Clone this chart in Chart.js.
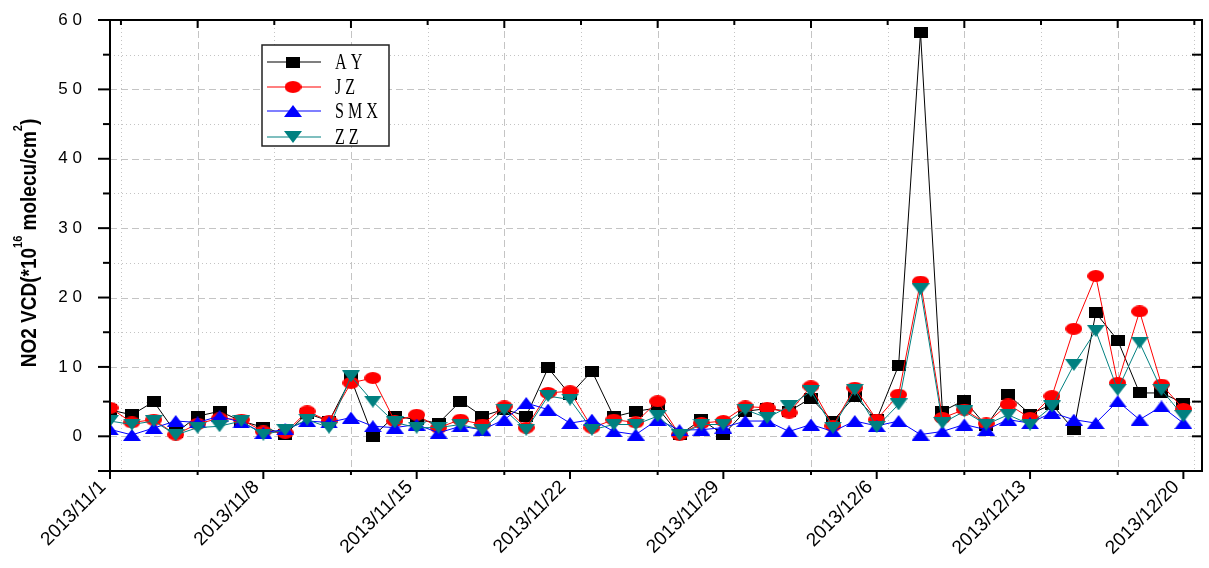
<!DOCTYPE html>
<html>
<head>
<meta charset="utf-8">
<script src="https://cdn.jsdelivr.net/npm/chart.js@4.4.1/dist/chart.umd.min.js"></script>
<style>
  html, body { margin: 0; padding: 0; background: #fff; }
  #wrap { width: 1209px; height: 568px; position: relative; }
</style>
</head>
<body>
<div id="wrap"><canvas id="c" width="1209" height="568"></canvas></div>
<script>
// One entry per day, 2013/11/1 .. 2013/12/20
const dates = [
  '2013/11/1','2013/11/2','2013/11/3','2013/11/4','2013/11/5','2013/11/6','2013/11/7','2013/11/8','2013/11/9','2013/11/10',
  '2013/11/11','2013/11/12','2013/11/13','2013/11/14','2013/11/15','2013/11/16','2013/11/17','2013/11/18','2013/11/19','2013/11/20',
  '2013/11/21','2013/11/22','2013/11/23','2013/11/24','2013/11/25','2013/11/26','2013/11/27','2013/11/28','2013/11/29','2013/11/30',
  '2013/12/1','2013/12/2','2013/12/3','2013/12/4','2013/12/5','2013/12/6','2013/12/7','2013/12/8','2013/12/9','2013/12/10',
  '2013/12/11','2013/12/12','2013/12/13','2013/12/14','2013/12/15','2013/12/16','2013/12/17','2013/12/18','2013/12/19','2013/12/20'
];

// NO2 VCD per site
const AY = [3.8, 3.1, 5.0, 0.5, 2.9, 3.6, 2.2, 1.3, 0.25, 3.3,
  2.2, 8.3, 0.0, 2.9, 2.4, 1.9, 5.05, 2.9, 3.9, 2.9,
  9.85, 6.0, 9.4, 2.8, 3.6, 4.1, 0.2, 2.4, 0.25, 3.6,
  4.0, 3.6, 5.5, 2.2, 5.8, 2.4, 10.2, 58.2, 3.6, 5.2,
  1.5, 6.0, 3.2, 4.6, 0.95, 17.8, 13.85, 6.25, 6.25, 4.8];
const JZ = [4.1, 2.0, 2.4, 0.25, 1.8, 2.6, 2.4, 0.7, 0.5, 3.6,
  2.2, 7.7, 8.4, 2.2, 3.1, 1.25, 2.4, 1.7, 4.3, 1.25,
  6.25, 6.5, 1.25, 2.4, 2.0, 5.05, 0.25, 1.9, 2.2, 4.3,
  4.1, 3.4, 7.2, 1.5, 7.0, 2.4, 6.0, 22.3, 2.65, 3.85,
  1.85, 4.6, 2.65, 5.8, 15.5, 23.1, 7.7, 18.0, 7.45, 3.95];
const SMX = [1.0, 0.2, 1.2, 2.2, 2.0, 2.9, 2.0, 0.5, 1.0, 2.2,
  2.0, 2.7, 1.45, 1.25, 1.7, 0.5, 1.45, 0.95, 2.4, 4.8,
  3.85, 1.9, 2.4, 0.7, 0.25, 2.4, 0.9, 0.95, 1.25, 2.2,
  2.2, 0.7, 1.7, 0.7, 2.2, 1.5, 2.2, 0.25, 0.7, 1.7,
  0.95, 2.4, 1.9, 3.4, 2.4, 1.9, 5.05, 2.4, 4.3, 1.9];
const ZZ = [2.2, 1.7, 2.2, 0.2, 1.25, 1.45, 2.2, 0.25, 0.9, 2.4,
  1.25, 8.65, 5.0, 2.0, 1.25, 1.25, 1.7, 0.95, 3.85, 0.95,
  5.8, 5.3, 0.95, 1.7, 1.7, 2.9, 0.2, 1.7, 1.7, 3.85,
  2.65, 4.3, 6.5, 1.25, 6.7, 1.35, 4.6, 21.2, 1.9, 3.6,
  1.7, 3.1, 1.7, 4.3, 10.3, 15.2, 6.7, 13.5, 6.7, 2.9];

// axis ticks
const xTickLabels = ['2013/11/1','2013/11/8','2013/11/15','2013/11/22','2013/11/29','2013/12/6','2013/12/13','2013/12/20'];
const yTicks = [0, 10, 20, 30, 40, 50, 60];
const yTickLabels = ['0', '1 0', '2 0', '3 0', '4 0', '5 0', '6 0'];

const xTickDays = xTickLabels.map(l => dates.indexOf(l));
const xGridDash = [4, 11, 18, 25, 32, 39, 46];          // dashed grid / top major / bottom minor
const xGridDot = [0.5, 7.5, 14.5, 21.5, 28.5, 35.5, 42.5, 49.5];
const yGridDash = [0, 10, 20, 30, 40, 50];
const yGridDot = [5, 15, 25, 35, 45, 55];

const FONT = 'Arial, "Liberation Sans", sans-serif';

// marker images (Origin-like, slightly wide)
function mk(w, h, draw) {
  const c = document.createElement('canvas');
  c.width = w; c.height = h;
  draw(c.getContext('2d'), w, h);
  return c;
}
const sqImg = mk(14, 11, (g, w, h) => { g.fillStyle = '#000'; g.fillRect(0, 0, w, h); });
const elImg = mk(17, 12, (g, w, h) => { g.fillStyle = '#ff0000'; g.beginPath(); g.ellipse(w / 2, h / 2, w / 2, h / 2, 0, 0, Math.PI * 2); g.fill(); });
const upImg = mk(18, 12, (g, w, h) => { g.fillStyle = '#0000ff'; g.beginPath(); g.moveTo(w / 2, 0); g.lineTo(w, h); g.lineTo(0, h); g.closePath(); g.fill(); });
const dnImg = mk(18, 12, (g, w, h) => { g.fillStyle = '#008080'; g.beginPath(); g.moveTo(0, 0); g.lineTo(w, 0); g.lineTo(w / 2, h); g.closePath(); g.fill(); });

const series = [
  { name: 'A Y', data: AY, color: '#000000', img: sqImg, order: 4 },
  { name: 'J Z', data: JZ, color: '#ff0000', img: elImg, order: 3 },
  { name: 'S M X', data: SMX, color: '#0000ff', img: upImg, order: 2 },
  { name: 'Z Z', data: ZZ, color: '#008080', img: dnImg, order: 1 }
];

// gridlines, axis frame, ticks, title and legend
const frame = {
  id: 'frame',
  beforeDatasetsDraw(chart) {
    const { ctx, chartArea: a, scales: { x, y } } = chart;
    ctx.save();
    ctx.lineWidth = 1;
    ctx.strokeStyle = '#c4c4c4';
    const vline = (v, dash) => {
      const px = Math.round(x.getPixelForValue(v)) + 0.5;
      ctx.setLineDash(dash); ctx.beginPath(); ctx.moveTo(px, a.top); ctx.lineTo(px, a.bottom); ctx.stroke();
    };
    const hline = (v, dash) => {
      const py = Math.round(y.getPixelForValue(v)) + 0.5;
      ctx.setLineDash(dash); ctx.beginPath(); ctx.moveTo(a.left, py); ctx.lineTo(a.right, py); ctx.stroke();
    };
    yGridDot.forEach(v => hline(v, [1, 3]));
    xGridDot.forEach(v => vline(v, [1, 3]));
    yGridDash.forEach(v => hline(v, [7, 4]));
    xGridDash.forEach(v => vline(v, [7, 4]));
    ctx.restore();
  },
  afterDraw(chart) {
    const { ctx, chartArea: a, scales: { x, y } } = chart;
    ctx.save();
    ctx.strokeStyle = '#000';
    ctx.lineWidth = 2;
    ctx.setLineDash([]);
    ctx.strokeRect(a.left, a.top, a.right - a.left, a.bottom - a.top);

    const seg = (x1, y1, x2, y2) => { ctx.beginPath(); ctx.moveTo(x1, y1); ctx.lineTo(x2, y2); ctx.stroke(); };
    // bottom: major outward, minor outward short
    xTickDays.forEach(v => { const p = x.getPixelForValue(v); seg(p, a.bottom, p, a.bottom + 8); });
    xGridDash.forEach(v => { const p = x.getPixelForValue(v); seg(p, a.bottom, p, a.bottom + 4); });
    // top: inward
    xGridDash.forEach(v => { const p = x.getPixelForValue(v); seg(p, a.top, p, a.top + 8); });
    xGridDot.forEach(v => { const p = x.getPixelForValue(v); seg(p, a.top, p, a.top + 5); });
    // left outward, right inward
    for (let v = -5; v <= 60; v += 5) {
      const p = y.getPixelForValue(v);
      const len = (v % 10 === 0 || v === -5) ? 12 : 7;
      seg(a.left - len, p, a.left, p);
      seg(a.right - 10, p, a.right, p);
    }

    // y title with superscripts
    ctx.fillStyle = '#000';
    ctx.textBaseline = 'alphabetic';
    const big = 'bold 19px ' + FONT, small = 'bold 11px ' + FONT;
    const parts = [
      [big, 'NO2 VCD(*10', 0], [small, '16', -12], [big, ' molecu/cm', 0], [small, '2', -12], [big, ')', 0]
    ];
    let total = 0;
    parts.forEach(p => { ctx.font = p[0]; total += ctx.measureText(p[1]).width; });
    ctx.translate(36, 243);
    ctx.rotate(-Math.PI / 2);
    ctx.scale(1, 1.2);
    let cx = -total / 2;
    parts.forEach(p => { ctx.font = p[0]; ctx.fillText(p[1], cx, p[2]); cx += ctx.measureText(p[1]).width; });
    ctx.restore();

    // legend box
    ctx.save();
    const lx = 262, ly = 45, lw = 127, lh = 101;
    ctx.fillStyle = '#fff';
    ctx.fillRect(lx, ly, lw, lh);
    ctx.strokeStyle = '#222';
    ctx.lineWidth = 1.5;
    ctx.strokeRect(lx, ly, lw, lh);
    const rows = [62, 87, 111, 137];
    series.forEach((s, i) => {
      const ry = rows[i];
      ctx.strokeStyle = s.color;
      ctx.lineWidth = 1.2;
      seg(267, ry, 321, ry);
      ctx.drawImage(s.img, 293 - s.img.width / 2, ry - s.img.height / 2);
      ctx.save();
      ctx.fillStyle = '#000';
      ctx.font = '23px "Liberation Serif", "DejaVu Serif", serif';
      ctx.textBaseline = 'middle';
      ctx.translate(335, ry + 1);
      ctx.scale(0.7, 1);
      ctx.fillText(s.name, 0, 0);
      ctx.restore();
    });
    ctx.restore();
  }
};

new Chart(document.getElementById('c'), {
  type: 'line',
  data: {
    datasets: series.map(s => ({
      label: s.name,
      data: s.data.map((v, i) => ({ x: i, y: v })),
      borderColor: s.color,
      borderWidth: 1,
      pointStyle: s.img,
      pointRadius: 6,
      pointHoverRadius: 6,
      tension: 0,
      order: s.order
    }))
  },
  options: {
    responsive: false,
    animation: false,
    events: [],
    layout: { padding: { top: 20, right: 3, left: 0, bottom: 0 } },
    plugins: { legend: { display: false }, tooltip: { enabled: false } },
    scales: {
      x: {
        type: 'linear',
        min: 0,
        max: 49.85,
        grid: { display: false, drawTicks: false },
        border: { display: false },
        afterBuildTicks: s => { s.ticks = xTickDays.map(v => ({ value: v })); },
        afterFit: s => { s.height = 97; s.paddingLeft = 0; s.paddingRight = 0; },
        ticks: {
          autoSkip: false,
          minRotation: 45,
          maxRotation: 45,
          padding: 5,
          labelOffset: -7,
          color: '#000',
          font: { family: FONT, size: 19 },
          callback: v => dates[v]
        }
      },
      y: {
        min: -5,
        max: 60,
        grid: { display: false, drawTicks: false },
        border: { display: false },
        afterBuildTicks: s => { s.ticks = yTicks.map(v => ({ value: v })); },
        afterFit: s => { s.width = 110; s.paddingTop = 0; s.paddingBottom = 0; },
        ticks: {
          padding: 28,
          color: '#000',
          font: { family: FONT, size: 17 },
          callback: v => yTickLabels[yTicks.indexOf(v)]
        }
      }
    }
  },
  plugins: [frame]
});
</script>
</body>
</html>
